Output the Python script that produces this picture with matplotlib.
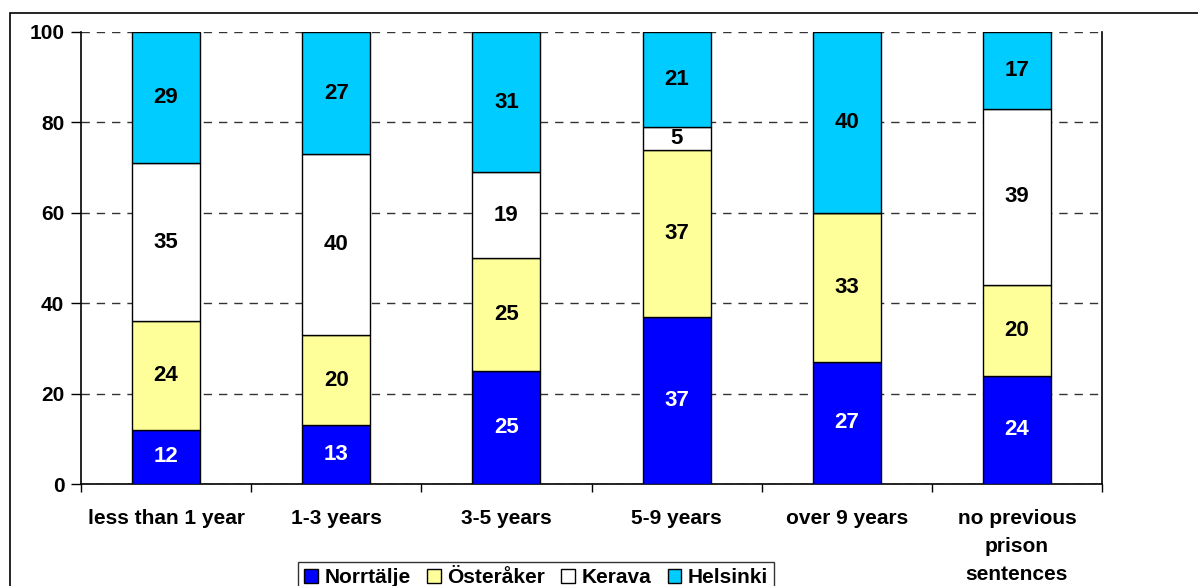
import matplotlib.pyplot as plt
from matplotlib.patches import Rectangle
import numpy as np

plt.rcParams['font.family'] = ['Liberation Sans', 'DejaVu Sans']
plt.rcParams['font.weight'] = 'bold'

categories = ['less than 1 year', '1-3 years', '3-5 years', '5-9 years',
              'over 9 years', 'no previous\nprison\nsentences']
norrtalje = [12, 13, 25, 37, 27, 24]
osteraker = [24, 20, 25, 37, 33, 20]
kerava = [35, 40, 19, 5, 0, 39]
helsinki = [29, 27, 31, 21, 40, 17]

series = [('Norrtälje', norrtalje, '#0000FF', 'white'),
          ('Österåker', osteraker, '#FFFF99', 'black'),
          ('Kerava', kerava, '#FFFFFF', 'black'),
          ('Helsinki', helsinki, '#00CCFF', 'black')]

fig = plt.figure(figsize=(11.98, 5.86), dpi=100)
ax = fig.add_axes([81 / 1198, 1 - 484 / 586, 1021 / 1198, 452 / 586])

# outer chart frame
fig.patches.append(Rectangle((10 / 1198, -0.1), 1.2, 1 - 13 / 586 + 0.1,
                             transform=fig.transFigure, fill=False,
                             edgecolor='black', linewidth=1.2, zorder=0))

x = np.arange(len(categories))
bottom = np.zeros(len(categories))
for name, vals, color, tcolor in series:
    vals = np.array(vals)
    ax.bar(x, vals, width=0.4, bottom=bottom, color=color, edgecolor='black',
           linewidth=1.0, label=name, zorder=3)
    for xi, b, v in zip(x, bottom, vals):
        if v > 0:
            ax.text(xi, b + v / 2, str(v), ha='center', va='center',
                    fontsize=16, fontweight='bold', color=tcolor, zorder=4)
    bottom += vals

ax.set_xlim(-0.5, len(categories) - 0.5)
ax.set_ylim(0, 100)
ax.set_yticks(range(0, 101, 20))
ax.yaxis.grid(True, linestyle=(0, (6, 5)), color='#333333', linewidth=1.0, zorder=1)
ax.set_axisbelow(True)

# category names drawn as text so the wrapped label gets wider line spacing
ax.set_xticks(np.arange(len(categories) + 1) - 0.5)
ax.set_xticklabels([])
ax.tick_params(axis='x', length=6, width=1, direction='out')
for xi, cat in zip(x, categories):
    ax.text(xi, -0.056, cat, transform=ax.get_xaxis_transform(), ha='center',
            va='top', fontsize=15, fontweight='bold', linespacing=1.6)
ax.tick_params(axis='y', labelsize=15, length=7, width=1, direction='out', pad=5)
for lbl in ax.get_yticklabels():
    lbl.set_fontweight('bold')

for side in ['left', 'bottom', 'right']:
    ax.spines[side].set_color('black')
    ax.spines[side].set_linewidth(1.2)
ax.spines['top'].set_visible(False)

leg = fig.legend(loc='lower center', bbox_to_anchor=(536 / 1198, -0.03), ncol=4,
                 frameon=True, fancybox=False, edgecolor='black',
                 handlelength=0.65, handleheight=0.65, handletextpad=0.3,
                 columnspacing=0.8, borderpad=0.3, prop={'weight': 'bold', 'size': 15})
leg.get_frame().set_linewidth(1.0)

fig.savefig('out.png', dpi=100)
